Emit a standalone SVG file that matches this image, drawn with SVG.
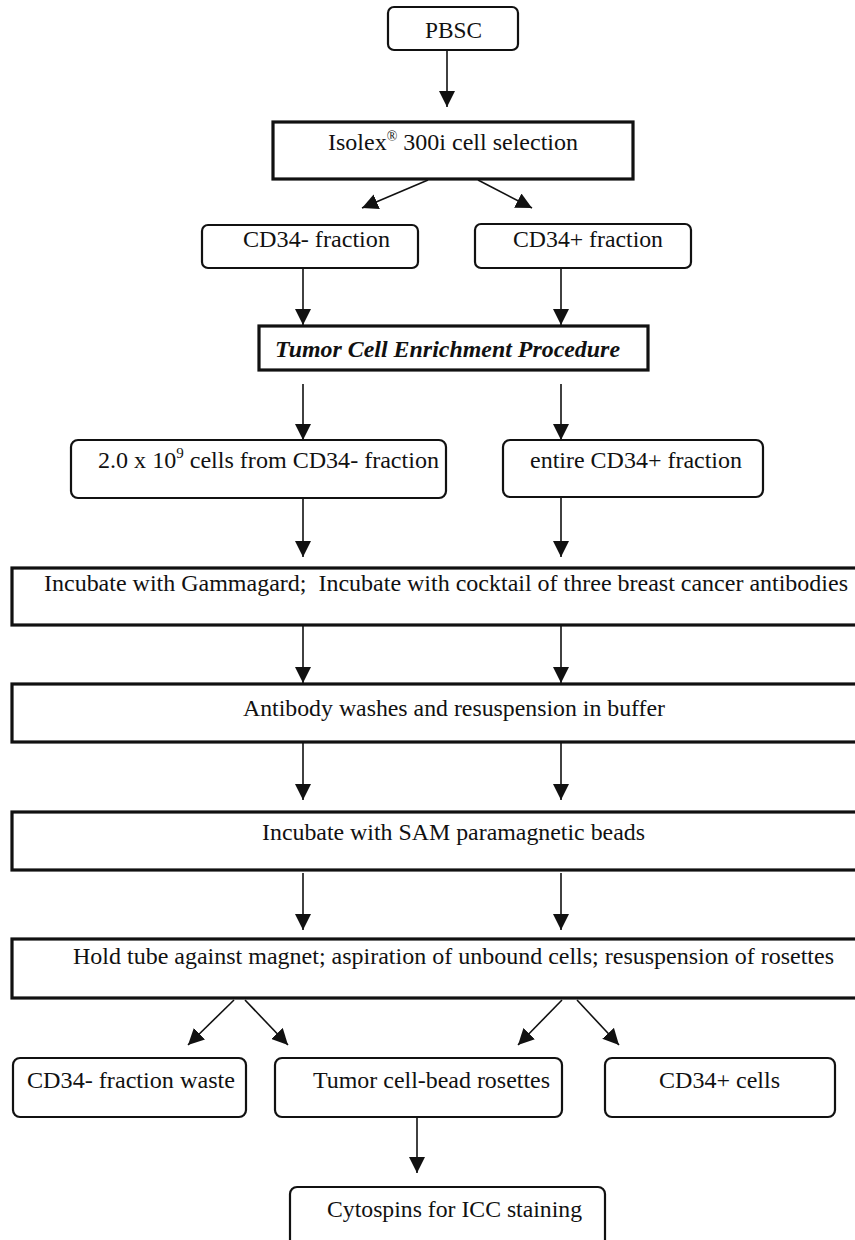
<svg xmlns="http://www.w3.org/2000/svg" width="855" height="1240" viewBox="0 0 855 1240">
<style>
  .rb { fill: #fff; stroke: #111; stroke-width: 2.2; }
  .sb { fill: #fff; stroke: #111; stroke-width: 3.2; }
  .t { font-family: "Liberation Serif", "Times New Roman", serif; font-size: 24px; fill: #111; }
  .bi { font-weight: bold; font-style: italic; }
  .c line { stroke: #111; stroke-width: 1.6; marker-end: url(#ah); }
</style>
<defs>
  <marker id="ah" markerUnits="userSpaceOnUse" markerWidth="16" markerHeight="16" viewBox="0 0 16 16" refX="16" refY="8" orient="auto">
    <path d="M0,0 L16,8 L0,16 z" fill="#111"/>
  </marker>
</defs>
<rect width="855" height="1240" fill="#fff"/>

<g id="connectors" class="c">
  <line x1="447" y1="50" x2="447" y2="107"/>
  <line x1="428" y1="180" x2="362" y2="208"/>
  <line x1="478" y1="180" x2="532" y2="208"/>
  <line x1="303" y1="268" x2="303" y2="325"/>
  <line x1="561" y1="268" x2="561" y2="325"/>
  <line x1="303" y1="384" x2="303" y2="440"/>
  <line x1="561" y1="384" x2="561" y2="440"/>
  <line x1="303" y1="498" x2="303" y2="557"/>
  <line x1="561" y1="498" x2="561" y2="557"/>
  <line x1="303" y1="625" x2="303" y2="683"/>
  <line x1="561" y1="625" x2="561" y2="683"/>
  <line x1="303" y1="743" x2="303" y2="800"/>
  <line x1="561" y1="743" x2="561" y2="800"/>
  <line x1="303" y1="873" x2="303" y2="930"/>
  <line x1="561" y1="873" x2="561" y2="930"/>
  <line x1="234" y1="1000" x2="188" y2="1045"/>
  <line x1="245" y1="1000" x2="288" y2="1045"/>
  <line x1="562" y1="1000" x2="518" y2="1045"/>
  <line x1="577" y1="1000" x2="619" y2="1045"/>
  <line x1="417" y1="1117" x2="417" y2="1173"/>
</g>

<g id="pbsc">
  <rect class="rb" x="388" y="7" width="130" height="43" rx="6"/>
  <text class="t" x="425" y="38" textLength="57" lengthAdjust="spacingAndGlyphs">PBSC</text>
</g>
<g id="isolex">
  <rect class="sb" x="273" y="122" width="360" height="57"/>
  <text class="t" x="328" y="150" textLength="250" lengthAdjust="spacingAndGlyphs">Isolex<tspan font-size="14" dy="-9">®</tspan><tspan dy="9"> 300i cell selection</tspan></text>
</g>
<g id="cd34neg">
  <rect class="rb" x="202" y="225" width="216" height="43" rx="6"/>
  <text class="t" x="243" y="247" textLength="147" lengthAdjust="spacingAndGlyphs">CD34- fraction</text>
</g>
<g id="cd34pos">
  <rect class="rb" x="475" y="224" width="216" height="44" rx="6"/>
  <text class="t" x="513" y="247" textLength="150" lengthAdjust="spacingAndGlyphs">CD34+ fraction</text>
</g>
<g id="tumor-procedure">
  <rect class="sb" x="259" y="326" width="389" height="44"/>
  <text class="t bi" x="275" y="357" textLength="345" lengthAdjust="spacingAndGlyphs">Tumor Cell Enrichment Procedure</text>
</g>
<g id="cells-cd34neg">
  <rect class="rb" x="71" y="440" width="375" height="58" rx="7"/>
  <text class="t" x="98" y="468" textLength="341" lengthAdjust="spacingAndGlyphs">2.0 x 10<tspan font-size="15" dy="-10">9</tspan><tspan dy="10"> cells from CD34- fraction</tspan></text>
</g>
<g id="entire-cd34pos">
  <rect class="rb" x="503" y="440" width="260" height="57" rx="7"/>
  <text class="t" x="530" y="468" textLength="212" lengthAdjust="spacingAndGlyphs">entire CD34+ fraction</text>
</g>
<g id="incubate-gammagard">
  <rect class="sb" x="12" y="568" width="860" height="57"/>
  <text class="t" x="44" y="591" textLength="804" lengthAdjust="spacingAndGlyphs" xml:space="preserve">Incubate with Gammagard;  Incubate with cocktail of three breast cancer antibodies</text>
</g>
<g id="antibody-washes">
  <rect class="sb" x="12" y="684" width="860" height="58"/>
  <text class="t" x="243" y="716" textLength="422" lengthAdjust="spacingAndGlyphs">Antibody washes and resuspension in buffer</text>
</g>
<g id="sam-beads">
  <rect class="sb" x="12" y="812" width="860" height="58"/>
  <text class="t" x="262" y="840" textLength="383" lengthAdjust="spacingAndGlyphs">Incubate with SAM paramagnetic beads</text>
</g>
<g id="magnet">
  <rect class="sb" x="12" y="939" width="860" height="59"/>
  <text class="t" x="73" y="964" textLength="761" lengthAdjust="spacingAndGlyphs">Hold tube against magnet; aspiration of unbound cells; resuspension of rosettes</text>
</g>
<g id="waste">
  <rect class="rb" x="13" y="1058" width="233" height="59" rx="7"/>
  <text class="t" x="27" y="1088" textLength="208" lengthAdjust="spacingAndGlyphs">CD34- fraction waste</text>
</g>
<g id="rosettes">
  <rect class="rb" x="275" y="1058" width="287" height="59" rx="7"/>
  <text class="t" x="313" y="1088" textLength="237" lengthAdjust="spacingAndGlyphs">Tumor cell-bead rosettes</text>
</g>
<g id="cd34pos-cells">
  <rect class="rb" x="605" y="1058" width="230" height="59" rx="7"/>
  <text class="t" x="659" y="1088" textLength="121" lengthAdjust="spacingAndGlyphs">CD34+ cells</text>
</g>
<g id="cytospins">
  <rect class="rb" x="290" y="1187" width="315" height="70" rx="7"/>
  <text class="t" x="327" y="1217" textLength="255" lengthAdjust="spacingAndGlyphs">Cytospins for ICC staining</text>
</g>
</svg>
